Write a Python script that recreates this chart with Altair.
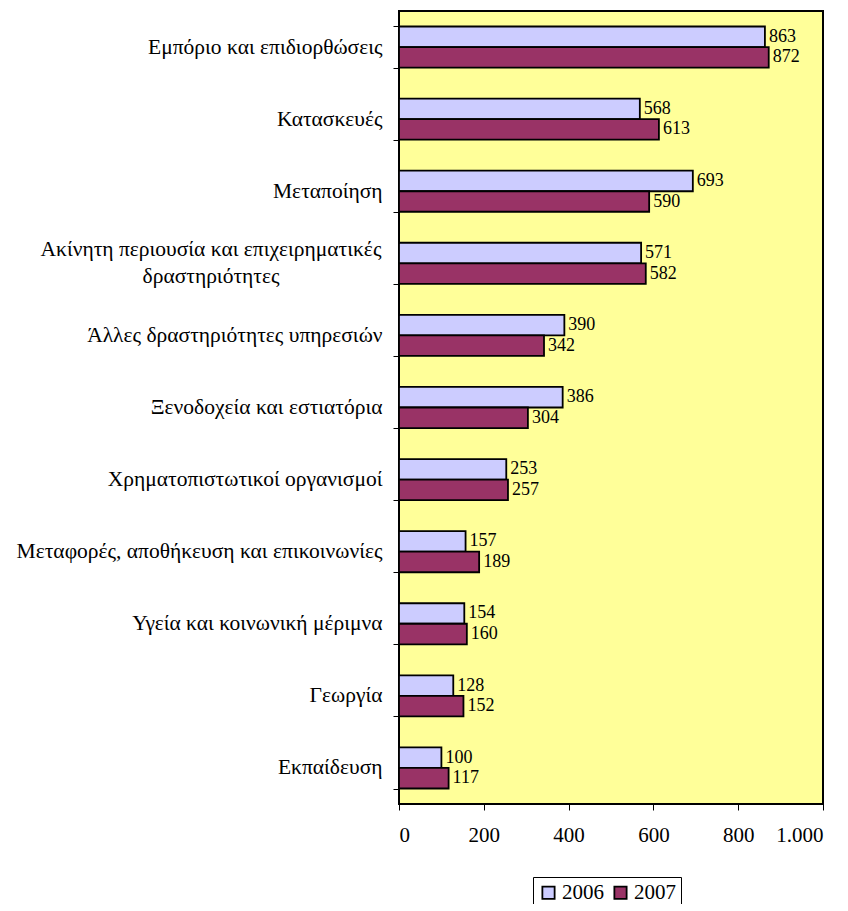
import altair as alt
import pandas as pd

categories = [
    "Εμπόριο και επιδιορθώσεις",
    "Κατασκευές",
    "Μεταποίηση",
    "Ακίνητη περιουσία και επιχειρηματικές|δραστηριότητες",
    "Άλλες δραστηριότητες υπηρεσιών",
    "Ξενοδοχεία και εστιατόρια",
    "Χρηματοπιστωτικοί οργανισμοί",
    "Μεταφορές, αποθήκευση και επικοινωνίες",
    "Υγεία και κοινωνική μέριμνα",
    "Γεωργία",
    "Εκπαίδευση",
]
years = ["2006", "2007"]
values_2006 = [863, 568, 693, 571, 390, 386, 253, 157, 154, 128, 100]
values_2007 = [872, 613, 590, 582, 342, 304, 257, 189, 160, 152, 117]
colors = ["#CCCCFF", "#993366"]

rows = []
for c, a, b in zip(categories, values_2006, values_2007):
    rows.append({"cat": c, "year": years[0], "value": a})
    rows.append({"cat": c, "year": years[1], "value": b})
df = pd.DataFrame(rows)

FONT = "Liberation Serif"

y_axis = alt.Axis(
    title=None,
    labelExpr="indexof(datum.label, '|') >= 0 ? '' : datum.label",
    labelFont=FONT,
    labelFontSize=21.5,
    labelColor="black",
    labelPadding=11,
    labelLimit=500,
    tickBand="extent",
    tickColor="black",
    tickSize=6,
    domain=False,
)
y_enc = alt.Y(
    "cat:N",
    sort=categories,
    scale=alt.Scale(paddingInner=0.43, paddingOuter=0.215),
    axis=y_axis,
)
yoff = alt.YOffset("year:N", sort=years, scale=alt.Scale(paddingInner=0, paddingOuter=0))

x_enc = alt.X(
    "value:Q",
    scale=alt.Scale(domain=[0, 1000], nice=False),
    axis=alt.Axis(
        title=None,
        values=[0, 200, 400, 600, 800, 1000],
        labelExpr="replace(format(datum.value, ','), ',', '.')",
        labelFont=FONT,
        labelFontSize=21,
        labelColor="black",
        labelPadding=14,
        tickColor="black",
        tickSize=6,
        domainColor="black",
        grid=False,
    ),
)

bars = alt.Chart(df).mark_bar(stroke="black", strokeWidth=1.8).encode(
    x=x_enc,
    y=y_enc,
    yOffset=yoff,
    color=alt.Color(
        "year:N",
        sort=years,
        scale=alt.Scale(domain=years, range=colors),
        legend=alt.Legend(
            title=None,
            orient="none",
            direction="horizontal",
            legendX=134,
            legendY=866,
            labelFont=FONT,
            labelFontSize=21,
            labelColor="black",
            symbolType="square",
            symbolSize=150,
            symbolStrokeColor="black",
            symbolStrokeWidth=1.8,
            strokeColor="black",
            padding=5,
            columnPadding=6,
            labelOffset=3,
        ),
    ),
)

labels = alt.Chart(df).mark_text(
    align="left", baseline="middle", dx=4, font=FONT, fontSize=18, color="black"
).encode(
    x=x_enc,
    y=y_enc,
    yOffset=yoff,
    text="value:Q",
)

# the two-line category label, centred like the original
wrapped = (
    alt.Chart(df)
    .transform_filter("indexof(datum.cat, '|') >= 0 && datum.year == '2006'")
    .mark_text(
        align="center",
        baseline="middle",
        lineBreak="|",
        lineHeight=27,
        dy=-13.5,
        font=FONT,
        fontSize=21.5,
        color="black",
    )
    .encode(
        x=alt.value(-188),
        y=y_enc,
        text="cat:N",
    )
)

chart = (
    alt.layer(bars, labels, wrapped)
    .properties(
        width=424,
        height=793,
        autosize=alt.AutoSizeParams(type="none"),
        padding={"left": 391, "top": 3, "right": 17, "bottom": 100},
    )
    .configure(background="white")
    .configure_view(fill="#FFFF99", stroke="black", strokeWidth=2)
)

chart.save("out.html", embed_options={"renderer": "svg", "actions": False})
